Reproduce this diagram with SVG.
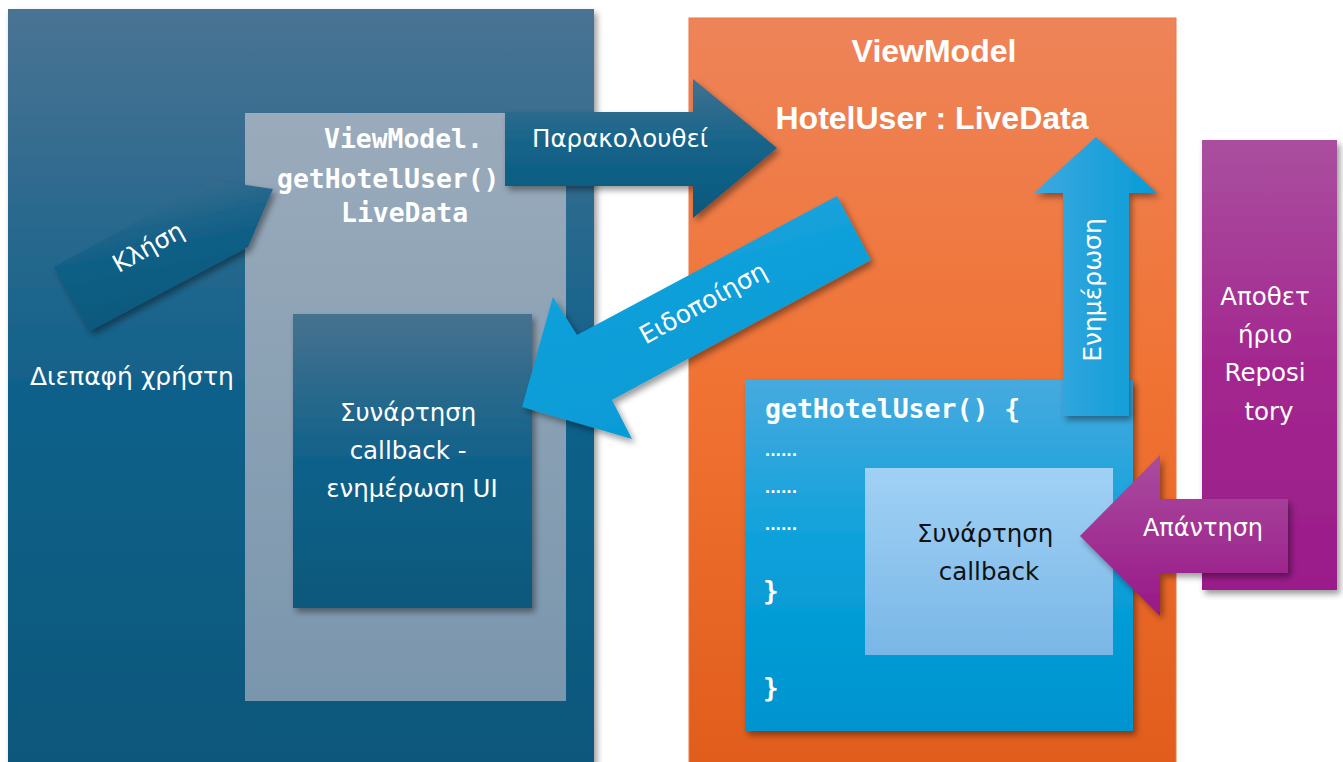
<svg xmlns="http://www.w3.org/2000/svg" width="1343" height="762" viewBox="0 0 1343 762">
  <defs>
    <linearGradient id="gUi" x1="0" y1="0" x2="0" y2="1">
      <stop offset="0" stop-color="#4a7393"/>
      <stop offset="0.5" stop-color="#10618a"/>
      <stop offset="1" stop-color="#0b577b"/>
    </linearGradient>
    <linearGradient id="gLight" x1="0" y1="0" x2="0" y2="1">
      <stop offset="0" stop-color="#9aabbb"/>
      <stop offset="1" stop-color="#7a96ad"/>
    </linearGradient>
    <linearGradient id="gDark" x1="0" y1="0" x2="0" y2="1">
      <stop offset="0" stop-color="#46728f"/>
      <stop offset="0.5" stop-color="#10618a"/>
      <stop offset="1" stop-color="#0b587c"/>
    </linearGradient>
    <linearGradient id="gDarkArrow" x1="0" y1="0" x2="0" y2="1">
      <stop offset="0" stop-color="#42718f"/>
      <stop offset="0.5" stop-color="#13638a"/>
      <stop offset="1" stop-color="#0b587c"/>
    </linearGradient>
    <linearGradient id="gCall" x1="0" y1="0" x2="0.3" y2="1">
      <stop offset="0" stop-color="#4a7393"/>
      <stop offset="0.55" stop-color="#0f5f86"/>
      <stop offset="1" stop-color="#0b587c"/>
    </linearGradient>
    <linearGradient id="gOrange" x1="0" y1="0" x2="0" y2="1">
      <stop offset="0" stop-color="#ee8459"/>
      <stop offset="0.5" stop-color="#f07232"/>
      <stop offset="1" stop-color="#e05c1b"/>
    </linearGradient>
    <linearGradient id="gCode" x1="0" y1="0" x2="0" y2="1">
      <stop offset="0" stop-color="#47aadf"/>
      <stop offset="0.5" stop-color="#09a0da"/>
      <stop offset="1" stop-color="#0094cf"/>
    </linearGradient>
    <linearGradient id="gCb" x1="0" y1="0" x2="0" y2="1">
      <stop offset="0" stop-color="#a1d1f5"/>
      <stop offset="1" stop-color="#79b7e7"/>
    </linearGradient>
    <linearGradient id="gRepo" x1="0" y1="0" x2="0" y2="1">
      <stop offset="0" stop-color="#aa4f9f"/>
      <stop offset="0.5" stop-color="#a3278f"/>
      <stop offset="1" stop-color="#9a1c8a"/>
    </linearGradient>
    <linearGradient id="gAns" x1="0" y1="0" x2="0" y2="1">
      <stop offset="0" stop-color="#aa4c9f"/>
      <stop offset="1" stop-color="#981888"/>
    </linearGradient>
    <linearGradient id="gBlueH" x1="0" y1="0" x2="1" y2="0">
      <stop offset="0" stop-color="#3ea9e0"/>
      <stop offset="1" stop-color="#069bd6"/>
    </linearGradient>
    <linearGradient id="gBlueD" x1="0" y1="0" x2="0.4" y2="1">
      <stop offset="0" stop-color="#3aa7df"/>
      <stop offset="0.5" stop-color="#0a9fd9"/>
      <stop offset="1" stop-color="#069bd6"/>
    </linearGradient>
    <filter id="shadow" x="-20%" y="-20%" width="140%" height="140%">
      <feDropShadow dx="3" dy="4" stdDeviation="3" flood-color="#000" flood-opacity="0.4"/>
    </filter>
    <style>
      .sans { font-family: "DejaVu Sans", "Noto Sans", sans-serif; }
      .bold { font-family: "Liberation Sans", Arial, sans-serif; font-weight: bold; }
      .mono { font-family: "DejaVu Sans Mono", "Liberation Mono", monospace; font-weight: bold; }
      .w { fill: #ffffff; }
      .k { fill: #111111; }
      .c { text-anchor: middle; }
    </style>
  </defs>

  <rect width="1343" height="762" fill="#ffffff"/>

  <!-- user interface panel -->
  <g id="ui">
    <rect x="8" y="9" width="586" height="760" fill="url(#gUi)" filter="url(#shadow)"/>
    <text class="sans w" x="30" y="385" font-size="25">Διεπαφή χρήστη</text>
  </g>

  <g id="livedata-ref">
    <rect x="245" y="113" width="321" height="588" fill="url(#gLight)"/>
    <text class="mono w" font-size="26.4">
      <tspan x="324" y="148">ViewModel.</tspan>
      <tspan x="277" y="188">getHotelUser()</tspan>
      <tspan x="341" y="222">LiveData</tspan>
    </text>
  </g>

  <g id="ui-callback">
    <rect x="293" y="314" width="239" height="294" fill="url(#gDark)" filter="url(#shadow)"/>
    <text class="sans w c" font-size="24.5">
      <tspan x="412" y="421">Συνάρτηση</tspan>
      <tspan x="412" y="459">callback  -</tspan>
      <tspan x="412" y="497">ενημέρωση UI</tspan>
    </text>
  </g>

  <!-- view model panel -->
  <g id="viewmodel">
    <rect x="689" y="18" width="487" height="760" fill="url(#gOrange)" stroke="#ec7642" stroke-width="1"/>
    <text class="bold w c" x="934" y="62" font-size="32">ViewModel</text>
    <text class="bold w c" x="932" y="129" font-size="32">HotelUser : LiveData</text>
  </g>

  <g id="get-hotel-user">
    <rect x="745" y="380" width="388" height="351" fill="url(#gCode)" filter="url(#shadow)"/>
    <text class="mono w" x="765" y="418" font-size="26.5">getHotelUser() {</text>
    <text class="bold w" font-size="18" letter-spacing="0.4">
      <tspan x="765" y="456">......</tspan>
      <tspan x="765" y="493">......</tspan>
      <tspan x="765" y="530">......</tspan>
    </text>
    <text class="mono w" font-size="26">
      <tspan x="763" y="600">}</tspan>
      <tspan x="763" y="697">}</tspan>
    </text>
  </g>

  <g id="vm-callback">
    <rect x="865" y="468" width="248" height="187" fill="url(#gCb)"/>
    <text class="sans k c" font-size="24.5">
      <tspan x="989" y="542">Συνάρτηση</tspan>
      <tspan x="989" y="580">callback</tspan>
    </text>
  </g>

  <!-- repository -->
  <g id="repository">
    <rect x="1202" y="140" width="135" height="450" fill="url(#gRepo)" filter="url(#shadow)"/>
    <text class="sans w c" font-size="24.5">
      <tspan x="1269" y="305">Αποθετ</tspan>
      <tspan x="1269" y="343">ήριο</tspan>
      <tspan x="1269" y="381">Reposi</tspan>
      <tspan x="1269" y="420">tory</tspan>
    </text>
  </g>

  <!-- block arrows -->
  <g id="connectors">
    <g id="call">
      <polygon points="54,267 213,180 273,189 248,247 90,331" fill="url(#gCall)" filter="url(#shadow)"/>
      <text class="sans w c" font-size="24.5" transform="translate(148,247) rotate(-29)" dominant-baseline="central">Κλήση</text>
    </g>
    <g id="observe">
      <polygon points="505,112 693,112 693,79 777,148 693,218 693,186 505,186" fill="url(#gDarkArrow)" filter="url(#shadow)"/>
      <text class="sans w c" x="620" y="147" font-size="24.5">Παρακολουθεί</text>
    </g>
    <g id="notify">
      <polygon points="837,196 577,335 553,297 522,407 632,439 612,400 871,260" fill="url(#gBlueD)" filter="url(#shadow)"/>
      <text class="sans w c" font-size="25" transform="translate(703,303) rotate(-29)" dominant-baseline="central">Ειδοποίηση</text>
    </g>
    <g id="update">
      <polygon points="1063,416 1063,193 1034,193 1096,137 1157,193 1129,193 1129,416" fill="url(#gBlueH)" filter="url(#shadow)"/>
      <text class="sans w c" font-size="25" transform="translate(1092,290) rotate(-90)" dominant-baseline="central">Ενημέρωση</text>
    </g>
    <g id="answer">
      <polygon points="1288,499 1160,499 1160,455 1080,536 1160,616 1160,573 1288,573" fill="url(#gAns)" filter="url(#shadow)"/>
      <text class="sans w c" x="1203" y="536" font-size="24">Απάντηση</text>
    </g>
  </g>
</svg>
